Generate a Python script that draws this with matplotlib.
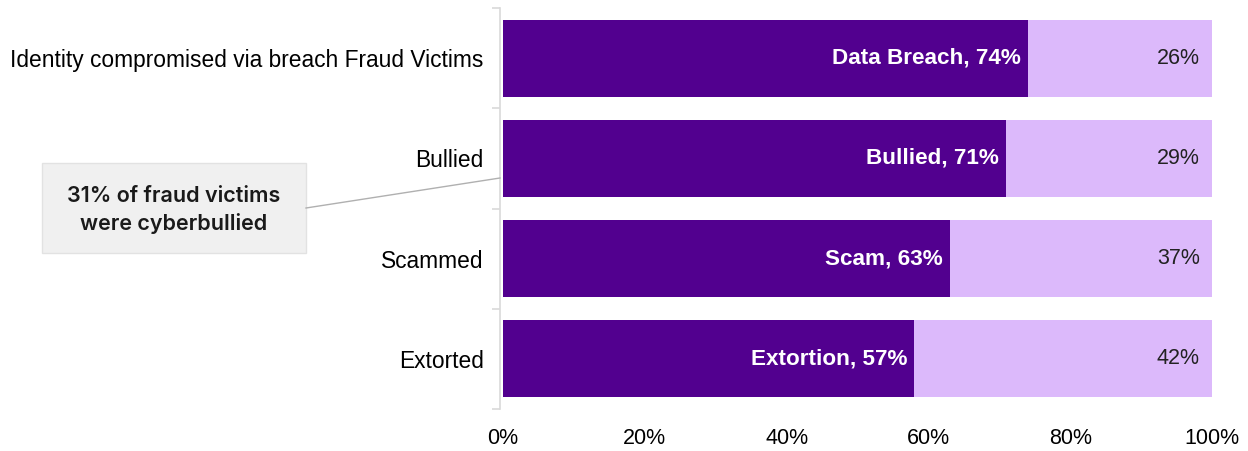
import matplotlib.pyplot as plt
import numpy as np

categories = ["Identity compromised via breach Fraud Victims", "Bullied", "Scammed", "Extorted"]
dark_names = ["Data Breach", "Bullied", "Scam", "Extortion"]
dark_vals = [74, 71, 63, 58]
dark_labels = [74, 71, 63, 57]
light_labels = [26, 29, 37, 42]
ticks = [0, 20, 40, 60, 80, 100]

dark_col = "#52008f"
light_col = "#dcb9fb"

plt.rcParams["font.family"] = ["Liberation Sans", "DejaVu Sans"]

fig = plt.figure(figsize=(12.48, 4.51), dpi=100)
ax = fig.add_axes([503 / 1248, 1 - 409 / 451, 709 / 1248, 401 / 451])

y = np.arange(len(categories))
light_vals = [100 - d for d in dark_vals]
ax.barh(y, dark_vals, height=0.77, color=dark_col)
ax.barh(y, light_vals, left=dark_vals, height=0.77, color=light_col)

for i in range(len(categories)):
    ax.text(dark_vals[i] - 1, y[i], f"{dark_names[i]}, {dark_labels[i]}%",
            ha="right", va="center", color="white", fontsize=16.2, fontweight="bold")
    ax.text(98.3, y[i], f"{light_labels[i]}%", ha="right", va="center",
            color="#222222", fontsize=15.5)

ax.set_xlim(0, 100)
ax.set_ylim(3.5, -0.5)
ax.set_yticks(y, categories)
ax.set_yticks(np.arange(-0.5, 4, 1), minor=True)
ax.tick_params(axis="y", which="major", length=0, pad=12, labelsize=16.4)
ax.tick_params(axis="y", which="minor", length=6, color="#d9d9d9", width=1.2)
ax.set_xticks(ticks, [f"{t}%" for t in ticks])
ax.tick_params(axis="x", length=0, pad=14, labelsize=15.5)
for s in ["top", "right", "bottom"]:
    ax.spines[s].set_visible(False)
ax.spines["left"].set_color("#d9d9d9")
ax.spines["left"].set_linewidth(1.2)
ax.spines["left"].set_position(("outward", 2))

# callout box
fig.add_artist(plt.Line2D([306 / 1248, 500 / 1248], [1 - 208 / 451, 1 - 178 / 451],
                          color="#b0b0b0", lw=1))
fig.add_artist(plt.Rectangle((42 / 1248, 1 - 253 / 451), 264 / 1248, 90 / 451,
                             facecolor="#f0f0f0", edgecolor="#e2e2e2", lw=1))
fig.text(174 / 1248, 1 - 210 / 451, "31% of fraud victims\nwere cyberbullied",
         ha="center", va="center", fontsize=15.5, family=["Inter", "DejaVu Sans"],
         fontweight="semibold", color="#1a1a1a", linespacing=1.45)

fig.savefig("out.png", dpi=100)
